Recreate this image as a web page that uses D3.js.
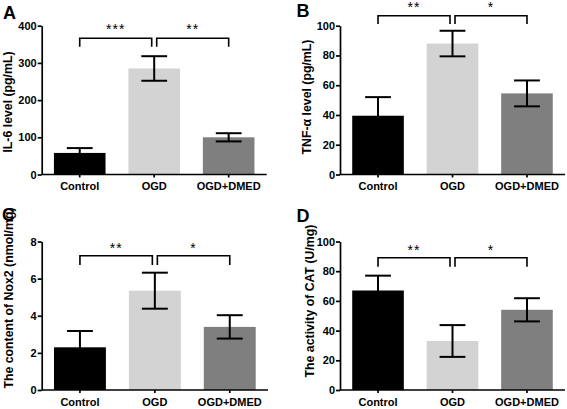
<!DOCTYPE html>
<html><head><meta charset="utf-8">
<script src="https://cdn.jsdelivr.net/npm/d3@7"></script>
<style>
body{margin:0;background:#fff}
svg{display:block}
text{font-family:"Liberation Sans",Arial,Helvetica,sans-serif}
</style></head>
<body><svg id="c" width="567" height="409"></svg>
<script>
const categories = ["Control", "OGD", "OGD+DMED"];
const barColors = ["#000000", "#d3d3d3", "#7f7f7f"];

const panelLetters = ["A", "B", "C", "D"];
const yTitles = ["IL-6  level (pg/mL)", "TNF-\u03b1 level (pg/mL)", "The content of Nox2 (nmol/mg)", "The activity of CAT (U/mg)"];
const yMax = [400, 100, 8, 100];
const yTickValues = [[0,100,200,300,400],[0,20,40,60,80,100],[0,2,4,6,8],[0,20,40,60,80,100]];

const meansA = [58, 285, 100];
const sdA    = [13, 33, 11];
const meansB = [39.5, 88, 54.5];
const sdB    = [12.5, 8.6, 8.7];
const meansC = [2.3, 5.35, 3.4];
const sdC    = [0.88, 0.97, 0.63];
const meansD = [67, 33, 54];
const sdD    = [10, 10.7, 7.8];

const starsA = ["***", "**"];
const starsB = ["**", "*"];
const starsC = ["**", "*"];
const starsD = ["**", "*"];

const panels = [
  {means: meansA, sd: sdA, stars: starsA},
  {means: meansB, sd: sdB, stars: starsB},
  {means: meansC, sd: sdC, stars: starsC},
  {means: meansD, sd: sdD, stars: starsD}
];

// layout (pixels)
const layout = [
  {x0: 41.7, x1: 266.7, yTop: 25.7, yBot: 174.5, letter:[3,18.5], title:[8,102], brY: 38.3, legY: 46.7, starY: 26},
  {x0: 340,  x1: 565,   yTop: 25.7, yBot: 174.5, letter:[296.5,16.5], title:[307,97], brY: 15.7, legY: 24, starY: 3.5},
  {x0: 41.7, x1: 268,   yTop: 241.5, yBot: 390, letter:[2,220.5], title:[8.5,298], brY: 255.7, legY: 265, starY: 245},
  {x0: 340,  x1: 565,   yTop: 241.5, yBot: 390, letter:[296.5,221.5], title:[310,301], brY: 257.7, legY: 266.7, starY: 246.7}
];

const svg = d3.select("#c");

panels.forEach((p, i) => {
  const L = layout[i];
  const g = svg.append("g");
  const x = d3.scaleBand().domain(categories).range([L.x0, L.x1]).paddingInner(0.307).paddingOuter(0.164);
  const y = d3.scaleLinear().domain([0, yMax[i]]).range([L.yBot, L.yTop]);

  g.selectAll("rect.bar").data(categories).join("rect")
    .attr("x", d => x(d)).attr("width", x.bandwidth())
    .attr("y", (d, j) => y(p.means[j]))
    .attr("height", (d, j) => L.yBot - y(p.means[j]))
    .attr("fill", (d, j) => barColors[j]);

  const capW = x.bandwidth() * 0.5;
  categories.forEach((c, j) => {
    const cx = x(c) + x.bandwidth() / 2;
    const hi = y(p.means[j] + p.sd[j]), lo = y(p.means[j] - p.sd[j]);
    g.append("line").attr("x1", cx).attr("x2", cx).attr("y1", hi).attr("y2", lo)
      .attr("stroke", "#000").attr("stroke-width", 2);
    [hi, lo].forEach(yy => g.append("line").attr("x1", cx - capW/2).attr("x2", cx + capW/2)
      .attr("y1", yy).attr("y2", yy).attr("stroke", "#000").attr("stroke-width", 2));
  });

  const yAxis = d3.axisLeft(y).tickValues(yTickValues[i]).tickSize(4).tickSizeOuter(0).tickPadding(1);
  const ga = g.append("g").attr("transform", `translate(${L.x0},0)`).call(yAxis);
  const xAxis = d3.axisBottom(x).tickSize(3).tickSizeOuter(0).tickPadding(5);
  const gx = g.append("g").attr("transform", `translate(0,${L.yBot})`).call(xAxis);
  [ga, gx].forEach(a => {
    a.select(".domain").attr("stroke", "#000").attr("stroke-width", 1.7);
    a.selectAll(".tick line").attr("stroke", "#000").attr("stroke-width", 1.7);
    a.selectAll("text").attr("fill", "#000").attr("font-weight", "bold")
      .attr("font-family", "'Liberation Sans', Arial, sans-serif");
  });
  ga.selectAll("text").attr("font-size", "11px");
  gx.selectAll("text").attr("font-size", "11px");
  gx.select(".domain").attr("d", `M${L.x0},0H${L.x1}`);

  const c0 = x(categories[0]) + x.bandwidth()/2;
  const c1 = x(categories[1]) + x.bandwidth()/2;
  const c2 = x(categories[2]) + x.bandwidth()/2;
  const pairs = [[c0, c1 - 2.5], [c1 + 2.5, c2]];
  pairs.forEach((pr, k) => {
    g.append("path")
      .attr("d", `M${pr[0]},${L.legY}V${L.brY}H${pr[1]}V${L.legY}`)
      .attr("fill", "none").attr("stroke", "#000").attr("stroke-width", 1.6);
    g.append("text").attr("x", (pr[0] + pr[1]) / 2).attr("y", L.starY + 8)
      .attr("text-anchor", "middle").attr("font-size", "14px")
      .attr("letter-spacing", "1px").text(p.stars[k]);
  });

  svg.append("text").attr("x", L.letter[0]).attr("y", L.letter[1])
    .attr("font-size", "18px").attr("font-weight", "bold").text(panelLetters[i]);

  svg.append("text").attr("transform", `translate(${L.title[0]},${L.title[1]}) rotate(-90)`)
    .attr("text-anchor", "middle").attr("dy", "0.35em")
    .attr("font-size", "12.3px").attr("font-weight", "bold").text(yTitles[i]);
});
</script></body></html>
